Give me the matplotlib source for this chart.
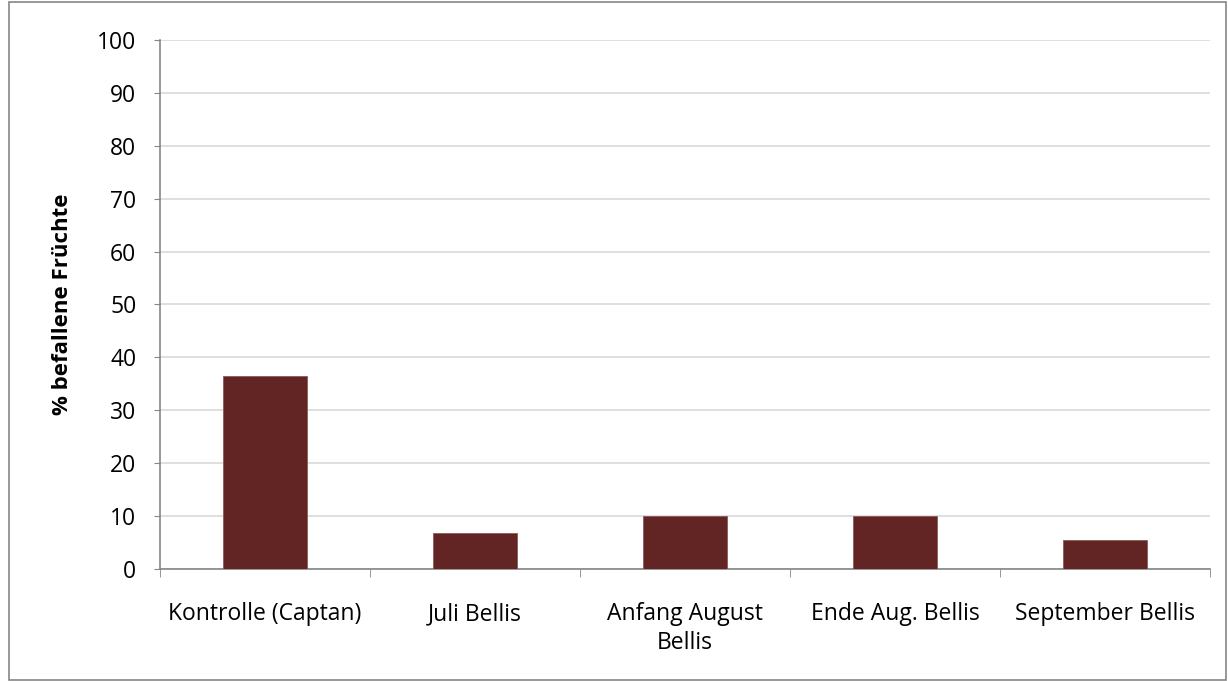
import matplotlib
matplotlib.use('Agg')
import matplotlib.pyplot as plt
from matplotlib.patches import Rectangle
import numpy as np

categories = ['Kontrolle (Captan)', 'Juli Bellis', 'Anfang August\nBellis',
              'Ende Aug. Bellis', 'September Bellis']
values = [36.5, 6.8, 10.1, 10.1, 5.5]
y_ticks = list(range(0, 101, 10))

plt.rcParams['font.family'] = ['Open Sans', 'DejaVu Sans']

fig = plt.figure(figsize=(12.28, 6.81), dpi=100)
ax = fig.add_axes([0.1303, 0.1645, 0.855, 0.7768])

x = np.arange(len(categories))
ax.bar(x, values, width=0.4, color='#632523', edgecolor='#8c5a58', linewidth=0.6, zorder=3)

ax.set_xlim(-0.5, len(categories) - 0.5)
ax.set_ylim(0, 100)
ax.set_yticks(y_ticks)
ax.tick_params(axis='y', labelsize=16.5, length=4, color='#868686', direction='out', pad=13)
ax.yaxis.grid(True, color='#d9d9d9', linewidth=1.2, zorder=0)

ax.set_xticks(x)
ax.set_xticklabels(categories, fontsize=16.5, linespacing=1.25)
ax.tick_params(axis='x', which='major', length=0, pad=24)
ax.set_xticks(np.arange(len(categories) + 1) - 0.5, minor=True)
ax.tick_params(axis='x', which='minor', length=6, color='#868686', direction='out')

for side in ['top', 'right']:
    ax.spines[side].set_visible(False)
for side in ['left', 'bottom']:
    ax.spines[side].set_color('#868686')
    ax.spines[side].set_linewidth(1.2)

ax.set_ylabel('% befallene Früchte', fontsize=16, fontweight='bold')
ax.yaxis.set_label_coords(-0.083, 0.5)

# outer chart border
fig.patches.append(Rectangle((0.007, 0.002), 0.991, 0.995, transform=fig.transFigure,
                             fill=False, edgecolor='#868686', linewidth=1.2))

fig.savefig('out.png', dpi=100)
